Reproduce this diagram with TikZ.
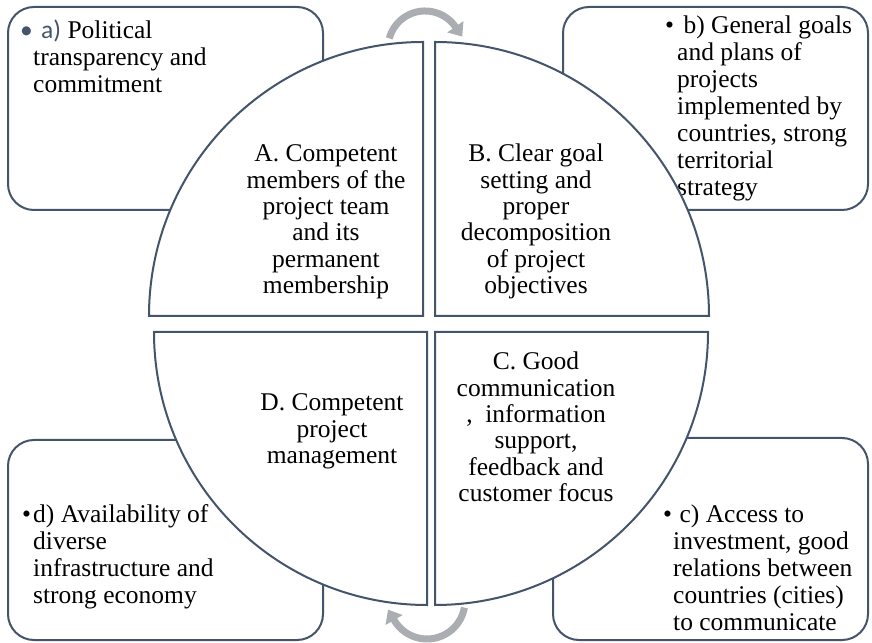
\documentclass[tikz,border=0pt]{standalone}
\usepackage{fontspec}
\setmainfont{Liberation Serif}
\newfontfamily\calibri{Carlito}
\usetikzlibrary{arrows.meta}

\definecolor{slate}{HTML}{44546A}
\definecolor{turngray}{HTML}{AAAEB2}

\begin{document}
\begin{tikzpicture}[x=1pt,y=1pt,
  frame/.style={draw=slate, line width=2pt, rounded corners=26pt, fill=white},
  quarter/.style={draw=slate, line width=2pt, fill=white},
  turn/.style={draw=turngray, line width=7pt, -{Triangle[width=19pt,length=12pt]}},
  qtext/.style={inner sep=0pt, anchor=base, font=\fontsize{25.5}{26.3}\selectfont},
  btext/.style={inner sep=0pt, anchor=base west, font=\fontsize{25.5}{27}\selectfont}]
\useasboundingbox (0,0) rectangle (872,642);

% outer boxes
\draw[frame] (8,635) rectangle (323,432);
\draw[frame] (563,635) rectangle (868,432);
\draw[frame] (553,204) rectangle (868,2);
\draw[frame] (8,202) rectangle (323,2);

\node[btext] (a) at (20,603) {\begin{tabular}[t]{@{}l@{}l@{}}
  \makebox[13pt][l]{\calibri\color{slate}\textbullet} & {\calibri\color{slate}\hspace{8pt}a)} Political\\
  & transparency and\\
  & commitment\end{tabular}};
\node[btext] (b) at (665,608) {\begin{tabular}[t]{@{}l@{}l@{}}
  \makebox[12pt][l]{\textbullet} & \ b) General goals\\
  & and plans of\\
  & projects\\
  & implemented by\\
  & countries, strong\\
  & territorial\\
  & strategy\end{tabular}};
\node[btext] (c) at (663,119) {\begin{tabular}[t]{@{}l@{}l@{}}
  \makebox[10pt][l]{\textbullet} & \ c) Access to\\
  & investment, good\\
  & relations between\\
  & countries (cities)\\
  & to communicate\end{tabular}};
\node[btext] (d) at (22,119) {\begin{tabular}[t]{@{}l@{}l@{}}
  \makebox[11pt][l]{\textbullet} & d) Availability of\\
  & diverse\\
  & infrastructure and\\
  & strong economy\end{tabular}};

% turning arrows
\coordinate (topturn) at (389.3,603.6);
\coordinate (botturn) at (464.4,34.4);
\draw[turn] (topturn) arc[start angle=165, end angle=35, radius=37] -- ++(-55:12);
\draw[turn] (botturn) arc[start angle=-10, end angle=-150, radius=38] -- ++(120:12);

% the four quarters
\draw[quarter] (423,326) -- (149,326) arc[start angle=180, end angle=90, radius=274] -- cycle;
\draw[quarter] (435,326) -- (435,600) arc[start angle=90, end angle=0, radius=274] -- cycle;
\draw[quarter] (435,310) -- (708,310) arc[start angle=0, end angle=-90, radius=273] -- cycle;
\draw[quarter] (427,310) -- (427,37) arc[start angle=-90, end angle=-180, radius=273] -- cycle;

\node[qtext] (A) at (326,480) {\begin{tabular}[t]{@{}c@{}}
  A. Competent\\ members of the\\ project team\\ and its\\ permanent\\ membership\end{tabular}};
\node[qtext] (B) at (536,480) {\begin{tabular}[t]{@{}c@{}}
  B. Clear goal\\ setting and\\ proper\\ decomposition\\ of project\\ objectives\end{tabular}};
\node[qtext] (C) at (536,272) {\begin{tabular}[t]{@{}c@{}}
  C. Good\\ communication\\ ,~ information\\ support,\\ feedback and\\ customer focus\end{tabular}};
\node[qtext] (D) at (332,231) {\begin{tabular}[t]{@{}c@{}}
  D. Competent\\ project\\ management\end{tabular}};
\end{tikzpicture}
\end{document}
